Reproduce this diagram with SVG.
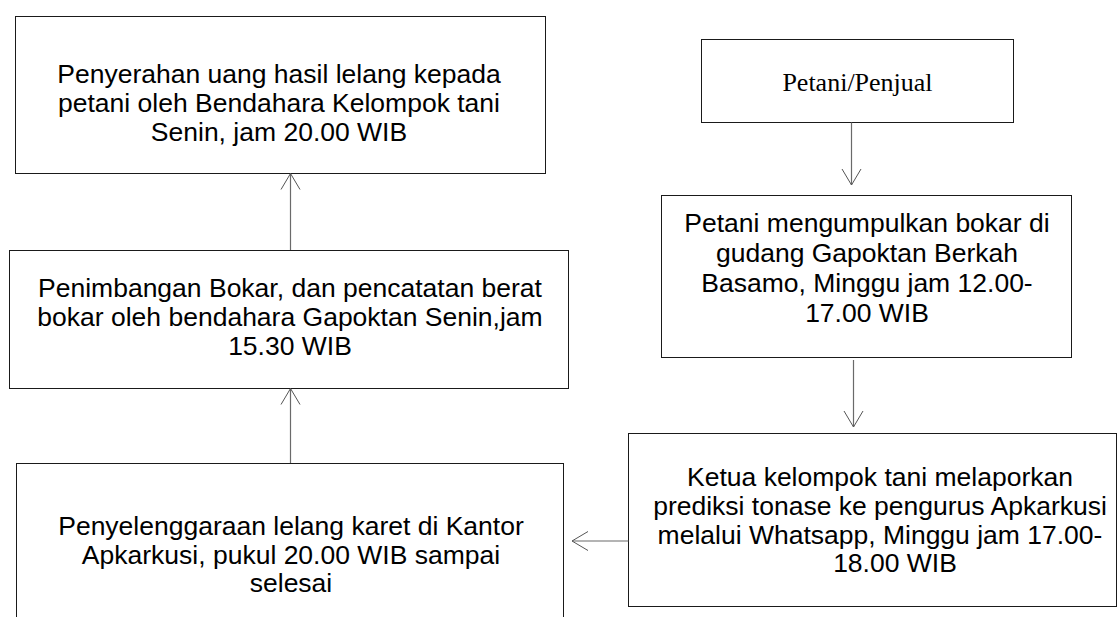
<svg xmlns="http://www.w3.org/2000/svg" width="1119" height="617" viewBox="0 0 1119 617">
<style>
.box{fill:#fff;stroke:#1a1a1a;stroke-width:1}
.t{font-family:"Liberation Sans",Arial,sans-serif;font-size:26.5px;fill:#000;text-anchor:middle}
.ts{font-family:"Liberation Serif","Times New Roman",serif;font-size:26px;fill:#000;text-anchor:middle}
.con{fill:none;stroke:#6a6a6a;stroke-width:1.2;marker-end:url(#arr)}
</style>
<defs>
<marker id="arr" markerUnits="userSpaceOnUse" markerWidth="18" markerHeight="21" refX="17" refY="10.5" orient="auto" overflow="visible">
<path d="M1,1 L17,10.5 L1,20" fill="none" stroke="#555" stroke-width="1"/>
</marker>
</defs>
<rect width="1119" height="617" fill="#fff"/>
<g id="n-penyerahan">
<rect class="box" x="15.5" y="16.5" width="530" height="157"/>
<text class="t"><tspan x="279" y="82.5">Penyerahan uang hasil lelang kepada</tspan><tspan x="279" y="111.5">petani oleh Bendahara Kelompok tani</tspan><tspan x="279" y="140.5">Senin, jam 20.00 WIB</tspan></text>
</g>
<g id="n-petani">
<rect class="box" x="701.5" y="39.5" width="312" height="83"/>
<text class="ts" x="857.5" y="90.5">Petani/Penjual</text>
</g>
<g id="n-mengumpulkan">
<rect class="box" x="661.5" y="195.5" width="410" height="162"/>
<text class="t"><tspan x="867" y="231.5">Petani mengumpulkan bokar di</tspan><tspan x="867" y="261.5">gudang Gapoktan Berkah</tspan><tspan x="867" y="291.5">Basamo, Minggu jam 12.00-</tspan><tspan x="867" y="321.5">17.00 WIB</tspan></text>
</g>
<g id="n-penimbangan">
<rect class="box" x="9.5" y="250.5" width="559" height="138"/>
<text class="t"><tspan x="290" y="297">Penimbangan Bokar, dan pencatatan berat</tspan><tspan x="290" y="326">bokar oleh bendahara Gapoktan Senin,jam</tspan><tspan x="290" y="355">15.30 WIB</tspan></text>
</g>
<g id="n-lelang">
<rect class="box" x="16.5" y="463.5" width="547" height="170"/>
<text class="t"><tspan x="291" y="535">Penyelenggaraan lelang karet di Kantor</tspan><tspan x="291" y="563.5">Apkarkusi, pukul 20.00 WIB sampai</tspan><tspan x="291" y="592">selesai</tspan></text>
</g>
<g id="n-ketua">
<rect class="box" x="628.5" y="433.5" width="488" height="173"/>
<text class="t"><tspan x="880" y="486">Ketua kelompok tani melaporkan</tspan><tspan x="880" y="514.5">prediksi tonase ke pengurus Apkarkusi</tspan><tspan x="880" y="543.5">melalui Whatsapp, Minggu jam 17.00-</tspan><tspan x="895" y="572">18.00 WIB</tspan></text>
</g>
<g id="connectors">
<path class="con" d="M851.5,122.5 L851.5,185"/>
<path class="con" d="M853.5,360 L853.5,427"/>
<path class="con" d="M628.5,541 L572,541"/>
<path class="con" d="M290.5,463 L290.5,388.5"/>
<path class="con" d="M290.5,250 L290.5,173.5"/>
</g>
</svg>
